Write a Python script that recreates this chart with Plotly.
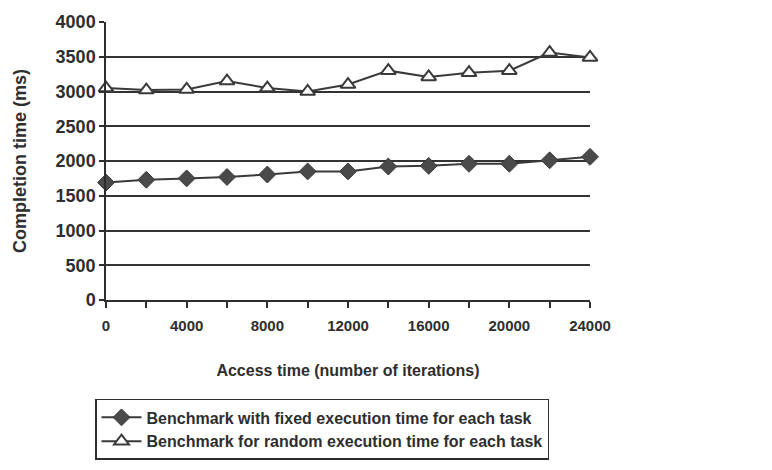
import plotly.graph_objects as go

iterations = [0, 2000, 4000, 6000, 8000, 10000, 12000, 14000, 16000, 18000, 20000, 22000, 24000]
fixed_ms = [1690, 1730, 1750, 1770, 1805, 1850, 1850, 1920, 1930, 1960, 1960, 2010, 2060]
random_ms = [3050, 3020, 3030, 3150, 3050, 3000, 3100, 3300, 3210, 3270, 3300, 3560, 3490]

x_tick_vals = list(range(0, 24001, 2000))
x_tick_text = [str(v) if v % 4000 == 0 else "" for v in x_tick_vals]
y_tick_vals = list(range(0, 4001, 500))

INK = "#2e2e2e"
FONT = "Liberation Sans, Arial, sans-serif"

fig = go.Figure()
fig.add_trace(go.Scatter(
    x=iterations, y=fixed_ms, mode="lines+markers",
    name="<b>Benchmark with fixed execution time for each task</b>",
    line=dict(color="#3a3a3a", width=2),
    marker=dict(symbol="diamond", size=13, color="#4a4a4a", line=dict(color="#3a3a3a", width=1)),
    cliponaxis=False,
))
fig.add_trace(go.Scatter(
    x=iterations, y=random_ms, mode="lines+markers",
    name="<b>Benchmark for random execution time for each task</b>",
    line=dict(color="#3a3a3a", width=2),
    marker=dict(symbol="triangle-up", size=13, color="white", line=dict(color="#3a3a3a", width=2)),
    cliponaxis=False,
))

fig.update_layout(
    width=772, height=470,
    margin=dict(l=106, r=182, t=22, b=170, autoexpand=False),
    paper_bgcolor="white", plot_bgcolor="white",
    font=dict(family=FONT, color=INK, size=16),
    showlegend=True,
    legend=dict(
        x=-0.0227, y=-0.356, xanchor="left", yanchor="top",
        bordercolor=INK, borderwidth=1.5, bgcolor="white",
        font=dict(size=16, color=INK, family=FONT),
        itemwidth=40, tracegroupgap=0,
    ),
)
fig.update_xaxes(
    range=[0, 24000], tickvals=x_tick_vals, ticktext=x_tick_text,
    ticks="outside", ticklen=6, tickwidth=1.5, tickcolor=INK,
    showline=True, linecolor=INK, linewidth=1.5, showgrid=False, zeroline=False,
    ticklabelstandoff=5,
    tickfont=dict(size=15, family=FONT, color=INK, weight="bold"),
    title=dict(text="<b>Access time (number of iterations)</b>", font=dict(size=16, color=INK), standoff=32),
)
fig.update_yaxes(
    range=[0, 4000], tickvals=y_tick_vals,
    ticks="outside", ticklen=5, tickwidth=1.5, tickcolor=INK,
    showline=True, linecolor=INK, linewidth=1.5,
    showgrid=True, gridcolor="#333333", gridwidth=2, zeroline=False,
    tickfont=dict(size=18, family=FONT, color=INK, weight="bold"),
    title=dict(text="<b>Completion time (ms)</b>", font=dict(size=18, color=INK), standoff=24),
)

fig.write_html("out.html")
